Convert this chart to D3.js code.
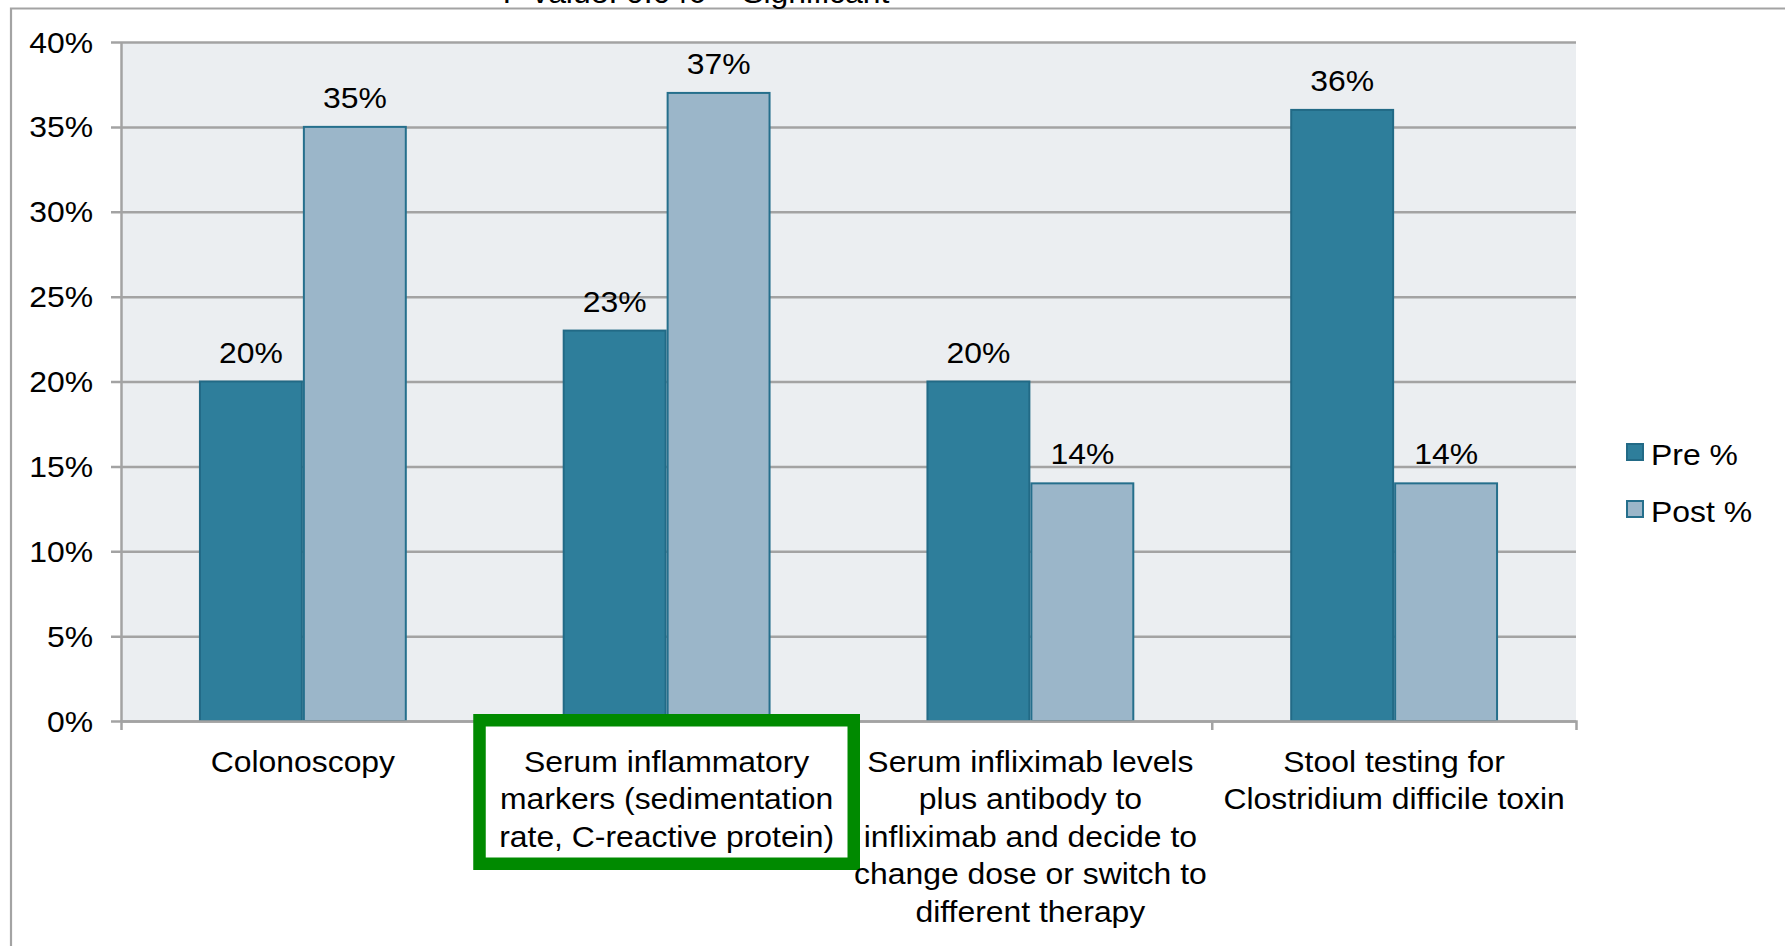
<!DOCTYPE html>
<html>
<head>
<meta charset="utf-8">
<script src="https://cdn.jsdelivr.net/npm/d3@7"></script>
<style>
  html, body { margin: 0; padding: 0; background: #ffffff; }
  svg { display: block; }
  text { font-family: "Liberation Sans", Arial, Helvetica, sans-serif; fill: #000000; }
</style>
</head>
<body>
<svg id="chart" width="1785" height="946"></svg>
<script>
// ---- data ----
const categories = [
  "Colonoscopy",
  "Serum inflammatory markers (sedimentation rate, C-reactive protein)",
  "Serum infliximab levels plus antibody to infliximab and decide to change dose or switch to different therapy",
  "Stool testing for Clostridium difficile toxin"
];
const categoryLines = [
  ["Colonoscopy"],
  ["Serum inflammatory", "markers (sedimentation", "rate, C-reactive protein)"],
  ["Serum infliximab levels", "plus antibody to", "infliximab and decide to", "change dose or switch to", "different therapy"],
  ["Stool testing for", "Clostridium difficile toxin"]
];
const seriesNames = ["Pre %", "Post %"];
const preValues = [20, 23, 20, 36];
const postValues = [35, 37, 14, 14];
const yTickValues = [0, 5, 10, 15, 20, 25, 30, 35, 40];
const noteText = "P value: 0.046 = Significant";
const highlightedCategory = 1;

// ---- look ----
const FONT = 29;
const SX = 1.1;                 // slightly widened lettering
const GRID = "#a3a3a3";
const fills = { "Pre %": "#2e7e9b", "Post %": "#9bb6c9" };
const strokes = { "Pre %": "#226a86", "Post %": "#256f8c" };

const svg = d3.select("#chart");
const W = 1785, H = 946;
const plot = { left: 121, right: 1576, top: 42, bottom: 721 };

const rows = categories.map((c, i) => ({ cat: c, "Pre %": preValues[i], "Post %": postValues[i] }));

const x = d3.scaleBand().domain(categories).range([plot.left, plot.right]).paddingInner(0).paddingOuter(0);
const xs = d3.scaleBand().domain(seriesNames).range([0, x.bandwidth()]).paddingInner(0).paddingOuter(0.75);
const y = d3.scaleLinear().domain([0, 40]).range([plot.bottom, plot.top]);

function wideText(sel, tx, ty, str, anchor) {
  return sel.append("text")
    .attr("transform", `translate(${tx},${ty}) scale(${SX},1)`)
    .attr("text-anchor", anchor)
    .attr("font-size", FONT)
    .text(str);
}

// outer frame (top and left edges)
svg.append("path")
  .attr("d", `M${W},8.5 L11,8.5 L11,${H}`)
  .attr("fill", "none").attr("stroke", GRID).attr("stroke-width", 2.2);

// note above the frame, mostly clipped by the page top
wideText(svg, 696, 3, noteText, "middle");

// plot background
svg.append("rect")
  .attr("x", plot.left).attr("y", plot.top)
  .attr("width", plot.right - plot.left).attr("height", plot.bottom - plot.top)
  .attr("fill", "#ebeef1");

// y axis with gridlines
const yAxis = svg.append("g")
  .attr("transform", `translate(${plot.left},0)`)
  .call(d3.axisLeft(y).tickValues(yTickValues).tickSize(10).tickSizeOuter(0).tickFormat(d => d + "%"));
yAxis.select(".domain").attr("stroke", GRID).attr("stroke-width", 2.5);
yAxis.selectAll(".tick line")
  .attr("x1", plot.right - plot.left)
  .attr("stroke", GRID).attr("stroke-width", 2.5);
yAxis.selectAll(".tick text")
  .attr("x", 0).attr("dy", null)
  .attr("transform", `translate(-28,10) scale(${SX},1)`)
  .attr("font-size", FONT)
  .attr("font-family", null)
  .attr("fill", "#000");

// bars
const groups = svg.append("g").selectAll("g")
  .data(rows).join("g")
  .attr("transform", d => `translate(${x(d.cat)},0)`);

groups.selectAll("rect")
  .data(d => seriesNames.map(s => ({ s, v: d[s] })))
  .join("rect")
  .attr("x", d => xs(d.s) + 1)
  .attr("y", d => y(d.v))
  .attr("width", xs.bandwidth() - 2)
  .attr("height", d => y(0) - y(d.v))
  .attr("fill", d => fills[d.s])
  .attr("stroke", d => strokes[d.s])
  .attr("stroke-width", 2);

// value labels
groups.each(function (d) {
  const g = d3.select(this);
  seriesNames.forEach(s => {
    wideText(g, xs(s) + xs.bandwidth() / 2, y(d[s]) - 19, d[s] + "%", "middle");
  });
});

// x axis: baseline, boundary ticks, category labels
const xAxis = svg.append("g")
  .attr("transform", `translate(0,${plot.bottom})`)
  .call(d3.axisBottom(x).tickSize(0).tickSizeOuter(9));
xAxis.select(".domain").attr("stroke", GRID).attr("stroke-width", 2.5);
xAxis.selectAll(".boundary")
  .data(categories.slice(1))
  .join("line")
  .attr("class", "boundary")
  .attr("x1", d => x(d)).attr("x2", d => x(d))
  .attr("y1", 0).attr("y2", 9)
  .attr("stroke", GRID).attr("stroke-width", 2.5);

// highlight frame around the second category label
const boxPad = 12.5;
svg.append("rect")
  .attr("x", x(categories[highlightedCategory]) - 11.5 + boxPad / 2)
  .attr("y", plot.bottom - 7 + boxPad / 2)
  .attr("width", x.bandwidth() + 23 - boxPad)
  .attr("height", 156 - boxPad)
  .attr("fill", "#ffffff")
  .attr("stroke", "#008a00")
  .attr("stroke-width", boxPad);

// category labels drawn on top of the frame
const labelLayer = svg.append("g").attr("transform", `translate(0,${plot.bottom})`);
const cats = labelLayer.selectAll("text")
  .data(categories)
  .join("text")
  .attr("transform", d => `translate(${x(d) + x.bandwidth() / 2},51) scale(${SX},1)`)
  .attr("text-anchor", "middle")
  .attr("font-size", FONT);
cats.each(function (d, i) {
  const t = d3.select(this);
  categoryLines[i].forEach((line, j) => {
    t.append("tspan").attr("x", 0).attr("y", j * 37.5).text(line);
  });
});
xAxis.selectAll(".tick text").remove();

// legend
const legend = svg.append("g").attr("transform", "translate(1626,443)");
const items = legend.selectAll("g")
  .data(seriesNames).join("g")
  .attr("transform", (d, i) => `translate(0,${i * 57})`);
items.append("rect")
  .attr("x", 1).attr("y", 1).attr("width", 16).attr("height", 16)
  .attr("fill", d => fills[d]).attr("stroke", d => strokes[d]).attr("stroke-width", 2);
items.each(function (d) {
  wideText(d3.select(this), 25, 22, d, "start");
});
</script>
</body>
</html>
